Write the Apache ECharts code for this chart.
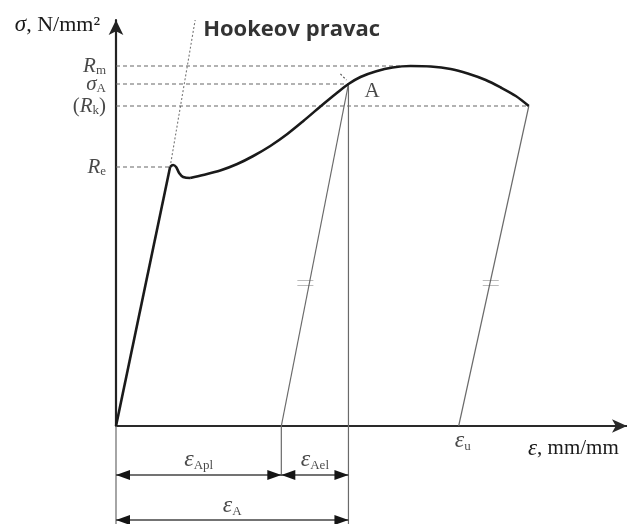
<!DOCTYPE html>
<html>
<head>
<meta charset="utf-8">
<script src="https://cdn.jsdelivr.net/npm/echarts@6/dist/echarts.min.js"></script>
<style>
  html, body { margin: 0; padding: 0; background: #fff; }
  #chart { width: 627px; height: 524px; }
</style>
</head>
<body>
<div id="chart"></div>
<script>
// Engineering stress–strain diagram of a ductile steel (schematic).
// Strain axis in %, stress axis in N/mm².

// elastic (Hooke) part of the loading curve
const elasticLine = [[0, 0], [5.4, 259]];
// yield point and the small dip right after it
const yieldDip = [[5.4, 259], [5.7, 261], [6.0, 259], [6.3, 253], [6.7, 249], [7.4, 248]];
// hardening up to Rm and necking down to fracture
const hardeningCurve = [
  [7.4, 248], [8.7, 251], [10.4, 255.5], [12.1, 262], [13.7, 270], [15.4, 280],
  [17.1, 292], [18.7, 305], [20.4, 319.5], [22.1, 333.5], [23.2, 342], [24.4, 349],
  [25.9, 354.5], [27.6, 358.5], [29.4, 360], [31.4, 359.5], [33.4, 357], [35.1, 352.5],
  [36.9, 346], [38.4, 338.5], [39.9, 330], [41.2, 320]
];
// extension of the elastic line ("Hookeov pravac")
const hookeLine = [[5.4, 259], [7.9, 406]];

// characteristic stress levels and the strain where each level meets the curve
const levelLabels = ['{i|R}{s|m}', '{i|σ}{s|A}', '{n|(}{i|R}{s|k}{n|)}', '{i|R}{s|e}'];
const levelValues = [360, 342, 320, 259];
const levelReach  = [28.5, 23.2, 41.2, 5.4];

// point A (unloading start) and fracture point
const pointA = [23.2, 342];
const pointFracture = [41.2, 320];
// strains after elastic recovery
const epsAplEnd = 16.5;   // plastic strain remaining after unloading from A
const epsU = 34.2;        // strain remaining after fracture
// stress level where the parallel-line marks are drawn
const parallelMarkStress = 143;
const parallelMarkStrain = [18.9, 37.4];

const SERIF = '"Liberation Serif", "DejaVu Serif", serif';
const INK = '#1a1a1a';
const THIN = '#6a6a6a';

const richSym = {
  i: { fontFamily: SERIF, fontStyle: 'italic', fontSize: 21, color: INK, lineHeight: 22 },
  e: { fontFamily: SERIF, fontStyle: 'italic', fontSize: 24, color: INK, lineHeight: 24 },
  s: { fontFamily: SERIF, fontSize: 13, color: INK, verticalAlign: 'bottom', lineHeight: 14 },
  n: { fontFamily: SERIF, fontSize: 21, color: INK, lineHeight: 22 }
};

function seg(points, style, extra) {
  return Object.assign({
    type: 'line', data: points, symbol: 'none', silent: true, clip: false,
    lineStyle: style, z: 2
  }, extra || {});
}

const series = [];

// main curve
series.push(seg(elasticLine, { color: INK, width: 2.6 }, { z: 5 }));
series.push(seg(yieldDip, { color: INK, width: 2.6 }, { smooth: 0.4, z: 5 }));
series.push(seg(hardeningCurve, { color: INK, width: 2.6 }, { smooth: 0.3, z: 5 }));

// Hooke line (dotted)
series.push(seg(hookeLine, { color: '#777', width: 1.1, type: [2, 2] }));

// dashed stress levels
levelValues.forEach((v, k) => {
  series.push(seg([[0, v], [levelReach[k], v]], { color: '#666', width: 1.1, type: [4, 3] }));
});

// short dashed tangent mark at A
series.push(seg([[22.4, 352], [23.0, 346]], { color: '#555', width: 1.1, type: [2, 2] }));

// unloading lines, parallel to the elastic line
series.push(seg([pointA, [epsAplEnd, 0]], { color: THIN, width: 1.2 }));
series.push(seg([pointFracture, [epsU, 0]], { color: THIN, width: 1.2 }));

// vertical extension lines for the dimensions
series.push(seg([[0, 0], [0, -98]], { color: THIN, width: 1.2 }));
series.push(seg([[epsAplEnd, 0], [epsAplEnd, -50]], { color: THIN, width: 1.2 }));
series.push(seg([pointA, [pointA[0], -98]], { color: THIN, width: 1.2 }));

// dimension lines with arrowheads at both ends
function dimLine(x0, x1, y) {
  const head = { symbol: 'triangle', symbolSize: [10, 14] };
  return seg([
    Object.assign({ value: [x0, y], symbolRotate: 90, symbolOffset: [7, 0] }, head),
    Object.assign({ value: [x1, y], symbolRotate: -90, symbolOffset: [-7, 0] }, head)
  ], { color: '#444', width: 1.3 }, {
    symbol: 'triangle', showSymbol: true, itemStyle: { color: '#151515' }
  });
}
series.push(dimLine(0, epsAplEnd, -49));
series.push(dimLine(epsAplEnd, pointA[0], -49));
series.push(dimLine(0, pointA[0], -94));

// text annotations
function textAt(value, formatter, labelOpt) {
  return {
    value: value,
    label: Object.assign({ show: true, formatter: formatter, rich: richSym, color: INK }, labelOpt)
  };
}
const notes = [];
levelValues.forEach((v, k) => {
  notes.push(textAt([0, v], levelLabels[k], { position: 'left', distance: 10 }));
});
notes.push(textAt(pointA, '{n|A}', { position: 'right', distance: 16, offset: [0, 7] }));
notes.push(textAt([epsU, 0], '{e|ε}{s|u}', { position: 'bottom', distance: 3, offset: [4, 0] }));
notes.push(textAt([epsAplEnd / 2, -49], '{e|ε}{s|Apl}', { position: 'top', distance: 3 }));
notes.push(textAt([(epsAplEnd + pointA[0]) / 2, -49], '{e|ε}{s|Ael}', { position: 'top', distance: 3 }));
notes.push(textAt([pointA[0] / 2, -94], '{e|ε}{s|A}', { position: 'top', distance: 2 }));
notes.push({
  value: hookeLine[1],
  label: {
    show: true, formatter: 'Hookeov pravac', position: 'right', distance: 8, offset: [0, 10],
    fontFamily: '"Open Sans", "DejaVu Sans", sans-serif', fontWeight: 700, fontSize: 22, color: '#000'
  }
});
series.push({
  type: 'scatter', data: notes, symbolSize: 0, silent: true, clip: false, z: 6
});

// "=" marks showing the unloading lines are parallel
series.push({
  type: 'scatter', silent: true, clip: false, z: 4,
  data: parallelMarkStrain.map(x => [x, parallelMarkStress]),
  symbol: 'path://M0,0L16,0M0,5L16,5', symbolSize: [16, 5],
  itemStyle: { color: 'none', borderColor: '#555', borderWidth: 1.3 }
});

const chart = echarts.init(document.getElementById('chart'), null, { renderer: 'canvas' });
chart.setOption({
  animation: false,
  backgroundColor: '#fff',
  grid: { left: 116, right: 0, top: 20, bottom: 98 },
  xAxis: {
    type: 'value', min: 0, max: 51,
    name: '{e|ε}, {n|mm/mm}', nameLocation: 'end', nameGap: -99,
    nameTextStyle: {
      align: 'left', verticalAlign: 'top', padding: [11, 0, 0, 0],
      rich: { e: { fontFamily: SERIF, fontStyle: 'italic', fontSize: 23, color: INK },
              n: { fontFamily: SERIF, fontSize: 21, color: INK } },
      fontFamily: SERIF, fontSize: 21, color: INK
    },
    axisLine: { onZero: false, symbol: ['none', 'arrow'], symbolSize: [10, 15],
                lineStyle: { color: '#2a2a2a', width: 2 } },
    axisTick: { show: false }, axisLabel: { show: false }, splitLine: { show: false }
  },
  yAxis: {
    type: 'value', min: 0, max: 406,
    name: '{i|σ}, {n|N/mm²}', nameLocation: 'end', nameGap: -5,
    nameTextStyle: {
      align: 'right', verticalAlign: 'middle', padding: [0, 16, 0, 0],
      rich: { i: { fontFamily: SERIF, fontStyle: 'italic', fontSize: 23, color: INK },
              n: { fontFamily: SERIF, fontSize: 22, color: INK } },
      fontFamily: SERIF, fontSize: 22, color: INK
    },
    axisLine: { show: true, symbol: ['none', 'arrow'], symbolSize: [11, 15],
                lineStyle: { color: '#222', width: 2.2 } },
    axisTick: { show: false }, axisLabel: { show: false }, splitLine: { show: false }
  },
  series: series
});
</script>
</body>
</html>
